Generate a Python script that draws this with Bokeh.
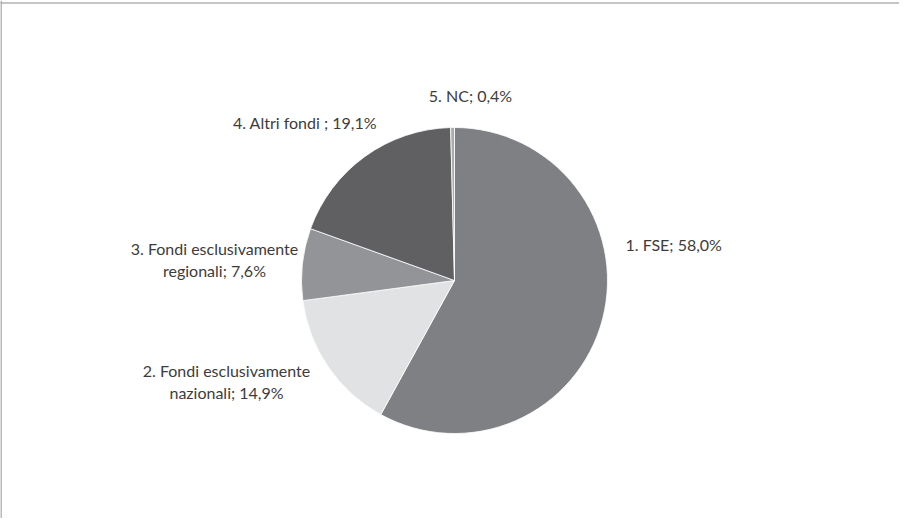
import math
from bokeh.plotting import figure
from bokeh.models import ColumnDataSource, Range1d, Span
from bokeh.core.properties import value
from bokeh.embed import file_html
from bokeh.resources import INLINE

# ---- data ----
categories = ["1. FSE", "2. Fondi esclusivamente nazionali", "3. Fondi esclusivamente regionali",
              "4. Altri fondi", "5. NC"]
shares = [58.0, 14.9, 7.6, 19.1, 0.4]
label_texts = ["1. FSE; 58,0%", "2. Fondi esclusivamente\nnazionali; 14,9%",
               "3. Fondi esclusivamente\nregionali; 7,6%", "4. Altri fondi ; 19,1%", "5. NC; 0,4%"]
colors = ["#7f8084", "#e1e2e4", "#939497", "#606063", "#aaabad"]

# ---- layout (pixel-like data units) ----
W, H = 899, 518
cx, cy, R = 454, 238, 153
label_x = [625, 226, 214, 304.5, 470]
label_y = [274, 137, 259, 396, 423]
label_align = ["left", "center", "center", "center", "center"]

total = sum(shares)
starts, ends = [], []
cum = 0.0
for s in shares:
    starts.append(math.pi / 2 - cum / total * 2 * math.pi)
    cum += s
    ends.append(math.pi / 2 - cum / total * 2 * math.pi)

src = ColumnDataSource(dict(cat=categories, share=shares, start=starts, end=ends, color=colors,
                            x=[cx] * len(shares), y=[cy] * len(shares)))
lsrc = ColumnDataSource(dict(x=label_x, y=label_y, text=label_texts, align=label_align))

p = figure(width=W, height=H, output_backend="svg", toolbar_location=None,
           x_range=Range1d(0, W), y_range=Range1d(0, H), min_border=0,
           outline_line_color=None, background_fill_color="white")
p.axis.visible = False
p.grid.visible = False

p.wedge(x="x", y="y", radius=R, start_angle="start", end_angle="end", direction="clock",
        fill_color="color", line_color="white", line_width=0.8, source=src)

p.text(x="x", y="y", text="text", source=lsrc, text_align="align", text_baseline="middle",
       text_font=value("Lato"), text_font_size="16px", text_color="#3c3c3c",
       text_line_height=1.15)

p.add_layout(Span(location=H - 2.5, dimension="width", line_color="#8c8c8c", line_width=1.2))
p.add_layout(Span(location=0.5, dimension="height", line_color="#8c8c8c", line_width=1.2))

open("out.html", "w").write(file_html(p, INLINE))
